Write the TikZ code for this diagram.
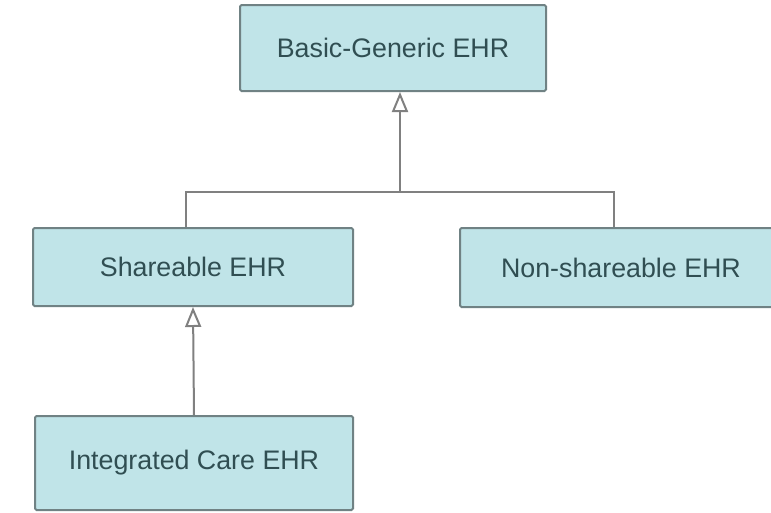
\documentclass[tikz,border=0pt]{standalone}
\usepackage{fontspec}
\setmainfont{Liberation Sans}
\usetikzlibrary{arrows.meta}
\definecolor{boxfill}{RGB}{192,228,232}
\definecolor{boxline}{RGB}{112,130,132}
\definecolor{boxtext}{RGB}{48,78,82}
\definecolor{linkline}{RGB}{128,128,128}
\tikzset{
  ehrbox/.style={draw=boxline, fill=boxfill, line width=2pt, rounded corners=1.5pt,
    text=boxtext, font=\fontsize{26.8}{30}\selectfont, inner sep=0pt},
  link/.style={draw=linkline, line width=2pt},
  gen/.style={-{Triangle[open, length=20pt, width=16pt]}}
}
\begin{document}
\begin{tikzpicture}[x=1pt, y=-1pt]
\useasboundingbox (0,0) rectangle (771,512); % размер картинки
\clip (0,0) rectangle (771,512);
\fill[white] (0,0) rectangle (771,512);
% блоки
\node[ehrbox, minimum width=306pt, minimum height=86pt] (basic) at (393,48) {Basic-Generic EHR};
\node[ehrbox, minimum width=320pt, minimum height=78pt] (share) at (193,267) {Shareable EHR};
\node[ehrbox, minimum width=322pt, minimum height=79pt] (nonshare) at (621,267.5) {Non-shareable EHR};
\node[ehrbox, minimum width=318pt, minimum height=94pt] (integ) at (194,463) {Integrated Care EHR};
% связи
\coordinate (join) at (400,192);
\draw[link] ([xshift=-7pt]share.north) |- (join) -| ([xshift=-7pt]nonshare.north); % общая шина
\draw[link, gen] (join) -- (basic.south -| join); % наследование от базового
\draw[link, gen] (integ.north) -- (share.south);
\end{tikzpicture}
\end{document}
